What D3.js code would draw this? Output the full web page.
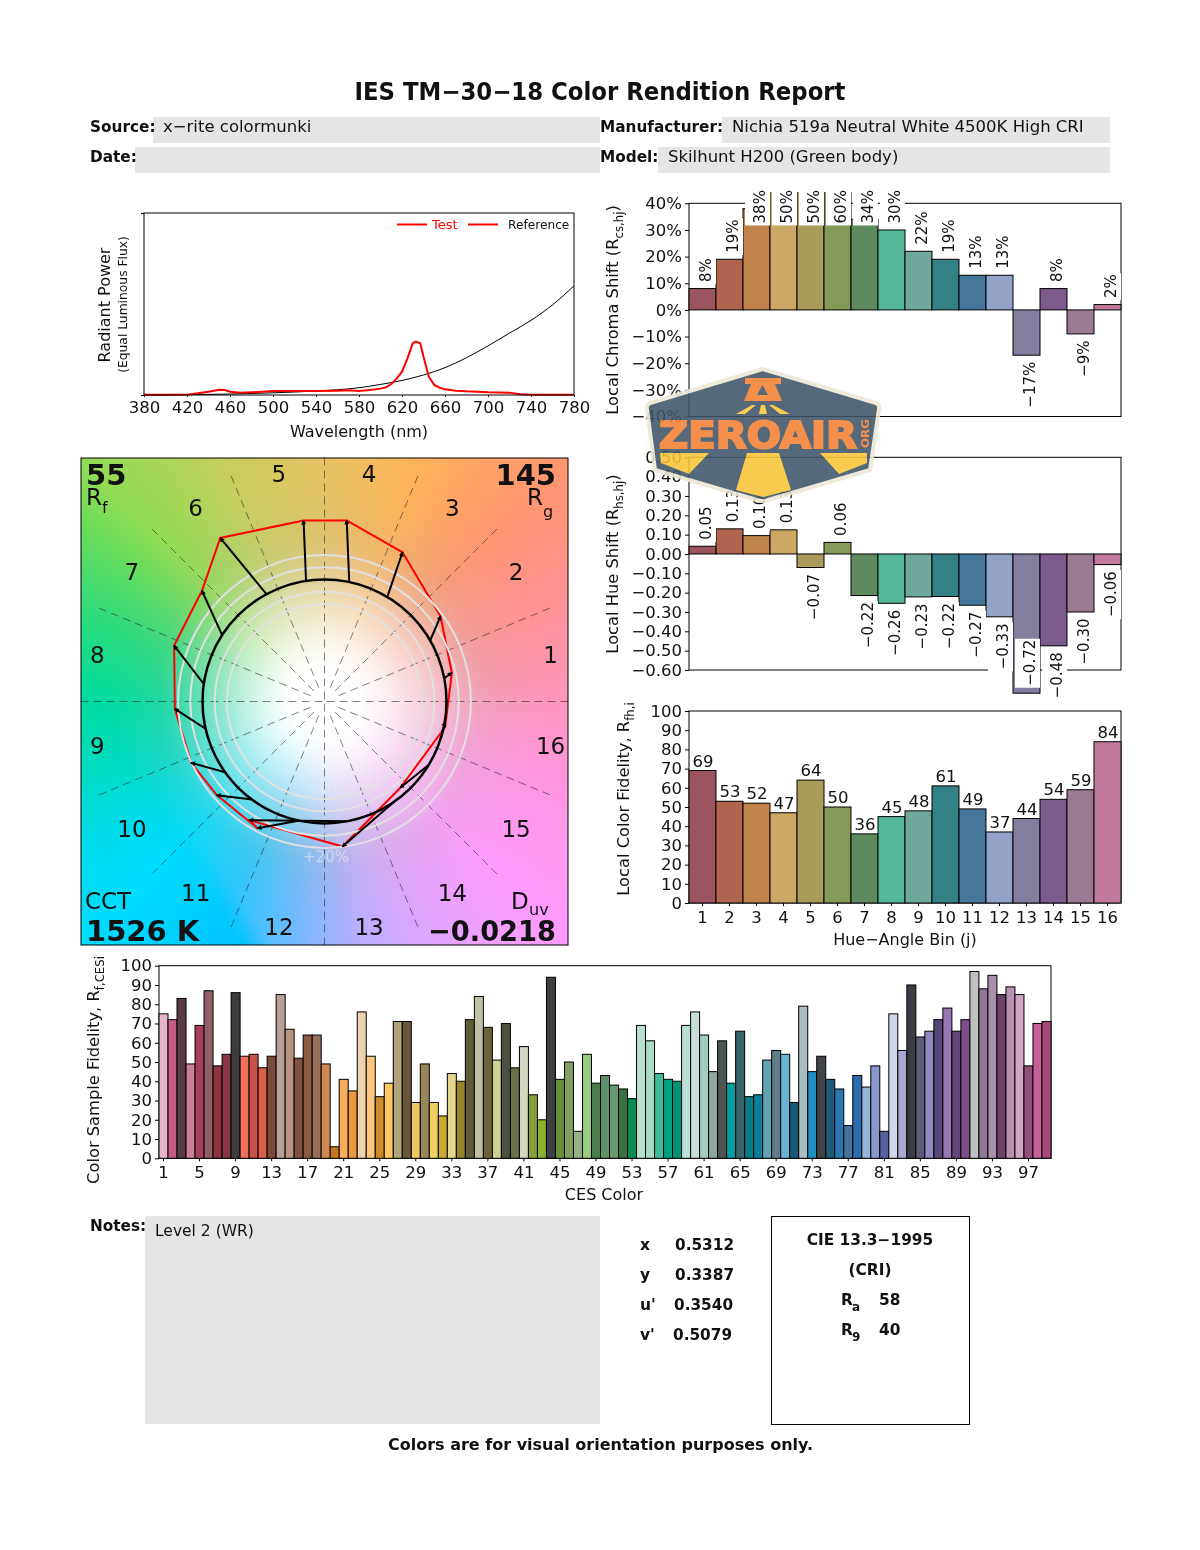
<!DOCTYPE html>
<html><head><meta charset="utf-8">
<script src="https://cdn.jsdelivr.net/npm/d3@7"></script>
<style>
html,body{margin:0;padding:0;background:#fff;}
#wrap{position:relative;width:1200px;height:1550px;}
canvas,svg{position:absolute;left:0;top:0;}
text{font-family:"DejaVu Sans",sans-serif;fill:#111;}
</style></head><body><div id="wrap"><canvas id="bg" width="1200" height="1550"></canvas><svg id="svg" width="1200" height="1550" viewBox="0 0 1200 1550"></svg></div>
<script>
// ---------- data ----------
const specRefWl=[380,420,460,500,540,580,600,620,640,660,680,700,720,740,760,780];
const specRefVal=[0,0.002,0.005,0.012,0.022,0.04,0.058,0.08,0.11,0.15,0.205,0.27,0.34,0.41,0.495,0.60];
const specTestWl=[380,420,430,440,450,455,460,470,480,490,500,540,560,570,580,590,600,605,610,615,620,625,630,633,637,640,645,650,655,660,670,680,700,720,730,740,780];
const specTestVal=[0.002,0.002,0.009,0.018,0.029,0.027,0.018,0.013,0.015,0.018,0.022,0.022,0.024,0.026,0.022,0.027,0.035,0.042,0.06,0.09,0.128,0.2,0.284,0.293,0.284,0.21,0.1,0.055,0.04,0.031,0.024,0.02,0.015,0.013,0.004,0.002,0.002];
const xTicksSpec=[380,420,460,500,540,580,620,660,700,740,780];
const bins=d3.range(1,17);
const binColors=["#9c5560","#b0634f","#c0834b","#cba864","#a99c5b","#859a58","#5f8a5f","#55b89a","#70a89e","#338085","#447799","#93a2c6","#857f9f","#7b5a8c","#9b7a94","#c27a9c"];
const chroma=[8,19,38,50,50,60,34,30,22,19,13,13,-17,8,-9,2];
const hue=[0.04,0.13,0.095,0.125,-0.07,0.06,-0.215,-0.255,-0.222,-0.22,-0.265,-0.325,-0.72,-0.475,-0.30,-0.055];
const hueLabels=["0.05","0.13","0.10","0.13","−0.07","0.06","−0.22","−0.26","−0.23","−0.22","−0.27","−0.33","−0.72","−0.48","−0.30","−0.06"];
const fidelity=[69,53,52,47,64,50,36,45,48,61,49,37,44,54,59,84];
const ces=[75,72,83,49,69,87,48,54,86,53,54,47,53,85,67,52,64,64,49,6,41,35,76,53,32,39,71,71,29,49,29,22,44,40,72,84,68,51,70,47,58,33,20,94,41,50,14,54,39,43,38,36,31,69,61,44,41,40,69,76,64,45,61,39,66,32,33,51,56,54,29,79,45,53,41,36,17,43,37,48,14,75,56,90,63,66,72,78,66,72,97,88,95,85,89,85,48,70,71];
const cesColors=["#e8b4cc","#c45c88","#5a3a44","#cc7f98","#a83e5c","#8e5f66","#90323f","#843844","#3c3c3c","#f07060","#c85048","#d86048","#7a4a38","#b8a098","#b89480","#805040","#8c5c40","#96705c","#d08850","#c87820","#f8ac5c","#ec9840","#ecd4b0","#fcc880","#cc8c28","#fcc860","#b0a478","#685838","#ecc860","#988858","#f0d060","#c8a830","#e4d890","#988428","#605c38","#c0c0a4","#6c6438","#d0d090","#4c5040","#687048","#d4d8c0","#88a038","#8cb030","#3c4040","#68903c","#80a060","#98b088","#98cc80","#4c7c48","#5c9068","#689870","#387040","#0c8c50","#b8e0d0","#a8dcc4","#40bc9c","#00a080","#009478","#b8e0d4","#c8dcd8","#a0ccc4","#90a8a0","#4c5454","#00a0a0","#386468","#087c84","#0c8098","#60a4b4","#607c88","#68b4d4","#145c78","#a8bcc4","#2090c0","#404448","#205878","#2878b4","#44749c","#2c6cb0","#94b4d8","#8898cc","#5860a4","#d0d4e8","#a8a8d0","#3c3c44","#5c5c74","#9088c0","#584878","#9878b4","#644878","#7c4c8c","#c0c0c0","#907898","#a890a8","#6c4468","#b890b0","#d0a8c4","#945078","#c86098","#a84878"];
const cesTicks=d3.range(1,98,4);
// colour vector graphic: polar values
const refAngle=[11,30,59,78.3,98.7,118.4,147,171.7,192.9,215.4,233.5,257.7,281,305,328.8,349];
const testAngle=[12.7,36.3,62.4,83,96.6,122.5,137.9,159.6,182.8,204.7,221,242.1,237.7,277.1,311.3,348];
const testRadius=[1.07,1.18,1.38,1.495,1.493,1.59,1.354,1.315,1.228,1.203,1.17,1.175,1.151,1.198,0.941,1.011];
const rings=[0.8,0.9,1.1,1.2];

// ---------- helpers ----------
const svg=d3.select("#svg");
const FS=16.5;
function txt(x,y,s,o={}){
  const t=svg.append("text").attr("x",x).attr("y",y).text(s)
   .attr("font-size",o.size||FS).attr("font-weight",o.bold?"bold":"normal")
   .attr("text-anchor",o.anchor||"start");
  if(o.fill)t.style("fill",o.fill);
  if(o.len)t.attr("textLength",o.len).attr("lengthAdjust","spacingAndGlyphs");
  return t;
}
function rotLabel(x,y,parts,size){
  const t=svg.append("text").attr("transform",`translate(${x},${y}) rotate(-90)`).attr("text-anchor","middle").attr("font-size",size);
  let prev=false;
  parts.forEach(([s,sub])=>{
    const ts=t.append("tspan").text(s);
    if(sub){ts.attr("font-size",size*0.72).attr("dy",size*0.3);}
    else if(prev){ts.attr("dy",-size*0.3);}
    prev=sub;
  });
  return t;
}
function styleAxis(g){
  g.selectAll("path,line").attr("stroke","#000").attr("stroke-width",1);
  g.selectAll("text").attr("font-size",FS).attr("font-family","DejaVu Sans").style("fill","#111");
}
function frame(x0,y0,x1,y1){
  svg.append("rect").attr("x",x0).attr("y",y0).attr("width",x1-x0).attr("height",y1-y0)
   .attr("fill","none").attr("stroke","#000").attr("stroke-width",1);
}

// ---------- header ----------
const GREY="#e5e5e5";
[[153,117,447,26],[722,117,388,26],[135,147,465,26],[658,147,452,26],[145,1216,455,208]].forEach(r=>{
  svg.append("rect").attr("x",r[0]).attr("y",r[1]).attr("width",r[2]).attr("height",r[3]).attr("fill",GREY);
});
txt(600,100,"IES TM−30−18 Color Rendition Report",{size:24,bold:true,anchor:"middle",len:491});
const BH=15.3;
txt(90,131.5,"Source:",{bold:true,size:BH});
txt(600,131.5,"Manufacturer:",{bold:true,size:BH});
txt(90,161.5,"Date:",{bold:true,size:BH});
txt(600,161.5,"Model:",{bold:true,size:BH});
txt(163,131.5,"x−rite colormunki");
txt(732,131.5,"Nichia 519a Neutral White 4500K High CRI");
txt(668,161.5,"Skilhunt H200 (Green body)");

// ---------- spectrum ----------
(function(){
 const x=d3.scaleLinear().domain([380,780]).range([144,574]);
 const y=d3.scaleLinear().domain([0,1]).range([395,213]);
 const line=d3.line().x(d=>x(d[0])).y(d=>y(d[1]));
 svg.append("path").attr("fill","none").attr("stroke","#000").attr("stroke-width",1)
   .attr("d",d3.line().curve(d3.curveMonotoneX).x(d=>x(d[0])).y(d=>y(d[1]))(d3.zip(specRefWl,specRefVal)));
 svg.append("path").attr("d",line(d3.zip(specTestWl,specTestVal))).attr("fill","none").attr("stroke","#f00").attr("stroke-width",2);
 const ax=svg.append("g").attr("transform","translate(0,395)").call(d3.axisBottom(x).tickValues(xTicksSpec).tickSize(2).tickPadding(4));
 styleAxis(ax);ax.select(".domain").remove();
 const ay=svg.append("g").attr("transform","translate(144,0)").call(d3.axisLeft(y).tickValues([0,1]).tickSize(3).tickFormat(""));
 styleAxis(ay);ay.select(".domain").remove();
 frame(144,213,574,395);
 rotLabel(110,305,[["Radiant Power",false]],16);
 rotLabel(127,304.5,[["(Equal Luminous Flux)",false]],12.3);
 txt(359,437,"Wavelength (nm)",{anchor:"middle",size:16});
 svg.append("line").attr("x1",397).attr("x2",427).attr("y1",224.5).attr("y2",224.5).attr("stroke","#f00").attr("stroke-width",2);
 txt(432,229,"Test",{size:13,fill:"#f00"});
 svg.append("line").attr("x1",468).attr("x2",498).attr("y1",224.5).attr("y2",224.5).attr("stroke","#f00").attr("stroke-width",2);
 txt(508,229,"Reference",{size:12.2});
})();

// ---------- colour vector background ----------
(function(){
 const L=81,T=458,S=487,cx=324,cy=701;
 const anchors=[[0,255,150,190],[25,255,145,145],[45,255,150,112],[69,255,180,90],[90,230,195,100],[112,200,205,95],[135,145,220,85],[143,110,220,90],[161,40,220,125],[180,0,220,160],[195,0,220,190],[212,0,220,235],[225,0,220,255],[245,40,200,255],[262,110,186,255],[278,185,174,255],[295,225,165,255],[315,255,155,255],[340,255,150,225],[360,255,150,190]];
 const ctx=document.getElementById("bg").getContext("2d");
 const im=ctx.createImageData(S,S);
 const ss=(a,b,v)=>{const t=Math.max(0,Math.min(1,(v-a)/(b-a)));return t*t*(3-2*t);};
 for(let j=0;j<S;j++)for(let i=0;i<S;i++){
  const px=L+i,py=T+j,dx=px-cx,dy=cy-py,r=Math.hypot(dx,dy);
  let a=Math.atan2(dy,dx)*180/Math.PI;if(a<0)a+=360;
  let k=0;while(k<anchors.length-2&&anchors[k+1][0]<=a)k++;
  const A=anchors[k],B=anchors[k+1],t=(a-A[0])/(B[0]-A[0]);
  const hueC=[1,2,3].map(n=>A[n]+(B[n]-A[n])*t);
  const mw=1-ss(110,240,r);
  const muted=hueC.map((v,n)=>v+([185,190,165][n]-v)*0.26*mw);
  const w=ss(22,175,r);
  const c=muted.map(v=>255+(v-255)*w);
  const d=((px-81)*(945-670)-(py-670)*(270-81))/Math.hypot(275,189);
  c[0]*=ss(-28,6,d)*0.999+0.001;
  const o=(j*S+i)*4;
  im.data[o]=c[0];im.data[o+1]=c[1];im.data[o+2]=c[2];im.data[o+3]=255;
 }
 ctx.putImageData(im,L,T);
})();

// ---------- colour vector graphic ----------
(function(){
 const cx=324.5,cy=701.5;
 const rS=d3.scaleLinear().domain([0,1]).range([0,122]);
 const pt=(a,r)=>{const t=a*Math.PI/180;return [cx+rS(r)*Math.cos(t),cy-rS(r)*Math.sin(t)];};
 const g=svg.append("g");
 d3.range(0,360,22.5).forEach(a=>{
  const e=pt(a,2.0),s=pt(a,a%90===0?0:0.12);
  g.append("line").attr("x1",e[0]).attr("y1",e[1]).attr("x2",s[0]).attr("y2",s[1]).attr("stroke","#222").attr("stroke-width",0.8).attr("stroke-dasharray","8,5").attr("opacity",0.7);
 });
 const testPts=testAngle.map((a,i)=>pt(a,testRadius[i]));
 g.append("path").attr("d",d3.line().curve(d3.curveLinearClosed)(testPts)).attr("fill","none").attr("stroke","#f00").attr("stroke-width",2);
 rings.forEach(r=>g.append("circle").attr("cx",cx).attr("cy",cy).attr("r",rS(r)).attr("fill","none").attr("stroke","#e0e0e0").attr("stroke-width",2));
 g.append("circle").attr("cx",cx).attr("cy",cy).attr("r",rS(1)).attr("fill","none").attr("stroke","#000").attr("stroke-width",2.5);
 const defs=svg.append("defs");
 defs.append("marker").attr("id","ah").attr("viewBox","0 0 10 10").attr("refX",8).attr("refY",5).attr("markerWidth",5).attr("markerHeight",5).attr("markerUnits","userSpaceOnUse").attr("orient","auto")
  .append("path").attr("d","M0,0L10,5L0,10z").attr("fill","#000");
 refAngle.forEach((a,i)=>{
  const s=pt(a,1),e=testPts[i];
  g.append("line").attr("x1",s[0]).attr("y1",s[1]).attr("x2",e[0]).attr("y2",e[1]).attr("stroke","#000").attr("stroke-width",2).attr("marker-end","url(#ah)");
 });
 frame(81,458,568,945);
 bins.forEach((b,i)=>{
  const p=pt((i+0.5)*22.5,231/122);
  txt(p[0]-0.5,p[1]+7,String(b),{size:23,anchor:"middle"});
 });
 txt(326,862,"+20%",{size:15,anchor:"middle",fill:"rgba(255,255,255,0.45)"});
 txt(328,793,"−20%",{size:15,anchor:"middle",fill:"rgba(255,255,255,0.15)"});
 txt(86,485,"55",{size:29,bold:true});
 txt(556,485,"145",{size:29,bold:true,anchor:"end"});
 txt(86,505,"R",{size:23});txt(102,513,"f",{size:16});
 txt(527,505,"R",{size:23});txt(543,517,"g",{size:16});
 txt(85,909,"CCT",{size:23});
 txt(86,941,"1526 K",{size:29,bold:true});
 txt(511,909,"D",{size:23});txt(529,915,"uv",{size:16});
 txt(556,941,"−0.0218",{size:29,bold:true,anchor:"end",len:128});
})();

// ---------- right column bars ----------
const X0=689,X1=1121;
const xBand=d3.scaleBand().domain(bins).range([X0,X1]).paddingInner(0).paddingOuter(0);
function clipDef(id,y0,y1){svg.append("clipPath").attr("id",id).append("rect").attr("x",0).attr("y",y0).attr("width",1200).attr("height",y1-y0);}
function barLabel(cx,left,w,y,up,s){
 const gg=svg.append("g");
 const r=gg.append("rect").attr("fill","#fff");
 const t=gg.append("text").attr("transform",`translate(${cx+8},${y}) rotate(-90)`).attr("text-anchor",up?"start":"end").attr("font-size",15).text(s);
 const len=t.node().getComputedTextLength();
 r.attr("x",left+2).attr("width",w-2).attr("y",up?y-len-1:y-1).attr("height",len+3);
}
// chroma
(function(){
 const y=d3.scaleLinear().domain([-40,40]).range([416.5,203.3]);
 const ax=svg.append("g").attr("transform",`translate(${X0},0)`).call(d3.axisLeft(y).tickValues(d3.range(-40,41,10)).tickSize(4).tickFormat(d=>d3.format("d")(d)+"%"));
 styleAxis(ax);ax.select(".domain").remove();
 frame(X0,203.3,X1,416.5);
 clipDef("c1",192,420);
 svg.append("g").attr("clip-path","url(#c1)").selectAll("rect").data(chroma).join("rect")
  .attr("x",(d,i)=>xBand(bins[i])).attr("width",xBand.bandwidth())
  .attr("y",d=>y(Math.max(d,0))).attr("height",d=>Math.abs(y(d)-y(0)))
  .attr("fill",(d,i)=>binColors[i]).attr("stroke","#000").attr("stroke-width",1);
 chroma.forEach((v,i)=>{
  const up=v>=0,a=up?y(Math.min(v,30))-6.5:y(v)+6.5;
  barLabel(xBand(bins[i])+xBand.bandwidth()/2,xBand(bins[i]),xBand.bandwidth(),a,up,d3.format("d")(v)+"%");
 });
 rotLabel(618,310,[["Local Chroma Shift (R",false],["cs,hj",true],[")",false]],16.3);
})();
// hue
(function(){
 const y=d3.scaleLinear().domain([-0.6,0.5]).range([670,457.3]);
 const ax=svg.append("g").attr("transform",`translate(${X0},0)`).call(d3.axisLeft(y).tickValues(d3.range(-6,6).map(d=>d/10)).tickSize(4).tickFormat(d3.format(".2f")));
 styleAxis(ax);ax.select(".domain").remove();
 frame(X0,457.3,X1,670);
 svg.append("g").selectAll("rect").data(hue).join("rect")
  .attr("x",(d,i)=>xBand(bins[i])).attr("width",xBand.bandwidth())
  .attr("y",d=>y(Math.max(d,0))).attr("height",d=>Math.abs(y(d)-y(0)))
  .attr("fill",(d,i)=>binColors[i]).attr("stroke","#000").attr("stroke-width",1);
 hue.forEach((v,i)=>{
  const up=v>=0,a=up?y(v)-6.5:y(v<-0.5?-0.41:v)+6.5;
  barLabel(xBand(bins[i])+xBand.bandwidth()/2,xBand(bins[i]),xBand.bandwidth(),a,up,hueLabels[i]);
 });
 rotLabel(618,564,[["Local Hue Shift (R",false],["hs,hj",true],[")",false]],16.3);
})();
// fidelity
(function(){
 const y=d3.scaleLinear().domain([0,100]).range([903,711]);
 const ax=svg.append("g").attr("transform",`translate(${X0},0)`).call(d3.axisLeft(y).tickValues(d3.range(0,101,10)).tickSize(4));
 styleAxis(ax);ax.select(".domain").remove();
 const bx=svg.append("g").attr("transform","translate(0,903)").call(d3.axisBottom(xBand).tickSize(3).tickPadding(5));
 styleAxis(bx);bx.select(".domain").remove();
 frame(X0,711,X1,903);
 svg.append("g").selectAll("rect").data(fidelity).join("rect")
  .attr("x",(d,i)=>xBand(bins[i])).attr("width",xBand.bandwidth())
  .attr("y",d=>y(d)).attr("height",d=>y(0)-y(d))
  .attr("fill",(d,i)=>binColors[i]).attr("stroke","#000").attr("stroke-width",1);
 fidelity.forEach((v,i)=>txt(xBand(bins[i])+xBand.bandwidth()/2+0.5,y(v)-4,String(v),{anchor:"middle"}));
 rotLabel(629,799,[["Local Color Fidelity, R",false],["fh,i",true]],16.3);
 txt(905,945,"Hue−Angle Bin (j)",{anchor:"middle",size:16});
})();
// CES
(function(){
 const idx=d3.range(1,100);
 const x=d3.scaleBand().domain(idx).range([159,1051]);
 const y=d3.scaleLinear().domain([0,100]).range([1158.3,965.7]);
 const ax=svg.append("g").attr("transform","translate(159,0)").call(d3.axisLeft(y).tickValues(d3.range(0,101,10)).tickSize(4));
 styleAxis(ax);ax.select(".domain").remove();
 const bx=svg.append("g").attr("transform","translate(0,1158.3)").call(d3.axisBottom(x).tickValues(cesTicks).tickSize(3).tickPadding(5));
 styleAxis(bx);bx.select(".domain").remove();
 frame(159,965.7,1051,1158.3);
 svg.append("g").selectAll("rect").data(ces).join("rect")
  .attr("x",(d,i)=>x(idx[i])).attr("width",x.bandwidth())
  .attr("y",d=>y(d)).attr("height",d=>y(0)-y(d))
  .attr("fill",(d,i)=>cesColors[i]).attr("stroke","#000").attr("stroke-width",1);
 rotLabel(99,1070,[["Color Sample Fidelity, R",false],["f,CESi",true]],16.3);
 txt(604,1200,"CES Color",{anchor:"middle",size:16});
})();

// ---------- footer ----------
txt(90,1230.5,"Notes:",{bold:true,size:BH});
txt(155,1235.5,"Level 2 (WR)",{size:15.5});
const chromLabels=["x","y","u'","v'"];
const chromVals=["0.5312","0.3387","0.3540","0.5079"];
const chromValX=[675,675,674,673];
chromLabels.forEach((l,i)=>{
 txt(640,1250+30*i,l,{bold:true,size:15.5});
 txt(chromValX[i],1250+30*i,chromVals[i],{bold:true,size:15.3});
});
svg.append("rect").attr("x",771.5).attr("y",1216.5).attr("width",198).attr("height",208).attr("fill","#fff").attr("stroke","#000");
txt(870,1245,"CIE 13.3−1995",{bold:true,anchor:"middle",size:15.4});
txt(870,1275,"(CRI)",{bold:true,anchor:"middle",size:15.4});
txt(841,1305,"R",{bold:true,size:15.4});txt(852,1311,"a",{bold:true,size:12});txt(879,1305,"58",{bold:true,size:15.4});
txt(841,1335,"R",{bold:true,size:15.4});txt(852,1341,"9",{bold:true,size:12});txt(879,1335,"40",{bold:true,size:15.4});
txt(600.5,1450,"Colors are for visual orientation purposes only.",{bold:true,anchor:"middle",size:16});

// ---------- watermark ----------
(function(){
 const g=svg.append("g").attr("opacity",0.88);
 const hex="M762.7,369 L876,403 Q880,405 879,409 L870,470 L768,500 Q762.7,502 757,500 L655,470 L647,409 Q646,405 650,403 Z";
 g.append("path").attr("d",hex).attr("fill","#3f5568").attr("stroke","#ece6d4").attr("stroke-width",4).attr("stroke-linejoin","round");
 const O="#f48034",Y="#f9c436";
 g.append("path").attr("d","M745,378 H781 V384 H745 Z M744,401 L751,384 H775 L782,401 Z M757,395 H768 L762.5,385 Z").attr("fill",O).attr("fill-rule","evenodd");
 g.append("path").attr("d","M736,414 L752,405 L756,405 L745,414 Z M759,414 L761,405 L765,405 L767,414 Z M780,414 L769,405 L773,405 L790,414 Z").attr("fill",Y);
 g.append("path").attr("d","M747,453 H779 L791,490 L763,497 L736,490 Z M660,453 H709 L689,474 L661,463 Z M820,453 H867 L867,463 L839,474 Z").attr("fill",Y);
 g.append("text").attr("x",659).attr("y",448).attr("font-size",37).attr("font-weight",900).attr("textLength",198).attr("lengthAdjust","spacingAndGlyphs").style("fill",O).attr("stroke",O).attr("stroke-width",2).text("ZEROAIR");
 g.append("text").attr("transform","translate(869,448) rotate(-90)").attr("font-size",10.5).attr("font-weight",900).attr("textLength",29).attr("lengthAdjust","spacingAndGlyphs").style("fill",O).text("ORG");
})();
</script></body></html>
